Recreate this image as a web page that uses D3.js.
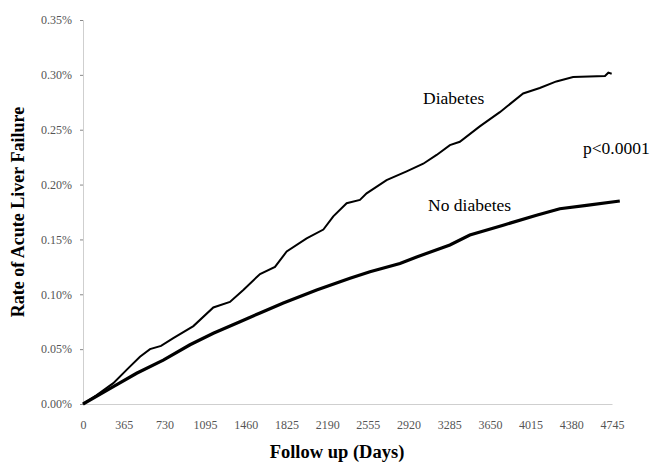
<!DOCTYPE html>
<html lang="en">
<head>
<meta charset="UTF-8">
<title>Acute liver failure</title>
<script src="https://cdn.jsdelivr.net/npm/d3@7"></script>
<style>
  body { margin: 0; background: #fff; }
</style>
</head>
<body>
<script>
// follow-up days and cumulative rate (%)
const diabetesDays = [0, 120, 272, 400, 511, 601, 700, 810, 990, 1169, 1318, 1438, 1588, 1722, 1827, 2006, 2156, 2245, 2365, 2484, 2544, 2723, 2903, 3052, 3172, 3291, 3380, 3559, 3739, 3948, 4097, 4246, 4396, 4682, 4712, 4742];
const diabetesRate = [0, 0.008, 0.019, 0.032, 0.043, 0.050, 0.053, 0.060, 0.071, 0.088, 0.093, 0.104, 0.1185, 0.125, 0.139, 0.151, 0.159, 0.171, 0.183, 0.186, 0.192, 0.204, 0.212, 0.219, 0.227, 0.236, 0.239, 0.253, 0.266, 0.283, 0.288, 0.294, 0.298, 0.299, 0.302, 0.301];

const noDiabetesDays = [0, 272, 481, 720, 960, 1169, 1408, 1588, 1797, 2096, 2395, 2574, 2843, 2993, 3291, 3470, 3769, 4068, 4277, 4516, 4815];
const noDiabetesRate = [0, 0.0158, 0.028, 0.040, 0.054, 0.0645, 0.075, 0.083, 0.092, 0.104, 0.1146, 0.1206, 0.128, 0.134, 0.145, 0.154, 0.163, 0.172, 0.178, 0.181, 0.185];

const xTicks = [0, 365, 730, 1095, 1460, 1825, 2190, 2555, 2920, 3285, 3650, 4015, 4380, 4745];
const yTicks = [0, 0.05, 0.10, 0.15, 0.20, 0.25, 0.30, 0.35];

const serif = '"Liberation Serif", "DejaVu Serif", serif';
const width = 650, height = 462;
const svg = d3.select('body').append('svg')
  .attr('width', width)
  .attr('height', height)
  .attr('font-family', serif);

const x = d3.scaleLinear().domain([0, 4745]).range([83, 612]);
const y = d3.scaleLinear().domain([0, 0.35]).range([404, 20]);

// axes
const xAxis = svg.append('g')
  .attr('transform', `translate(0,${y(0)})`)
  .call(d3.axisBottom(x).tickValues(xTicks).tickSize(0).tickPadding(16)
    .tickFormat(d3.format('d')));
const yAxis = svg.append('g')
  .attr('transform', `translate(${x(0)},0)`)
  .call(d3.axisLeft(y).tickValues(yTicks).tickSize(3).tickPadding(8)
    .tickFormat(d => d3.format('.2f')(d) + '%'));

[xAxis, yAxis].forEach(a => {
  a.attr('font-family', serif).attr('font-size', 12);
  a.select('.domain').attr('stroke', '#cfcfcf').attr('stroke-width', 1);
  a.selectAll('.tick line').attr('stroke', '#888');
  a.selectAll('.tick text').attr('fill', '#555');
});

// curves
const line = d3.line()
  .x(d => x(d[0]))
  .y(d => y(d[1]));

svg.append('path')
  .datum(d3.zip(diabetesDays, diabetesRate))
  .attr('d', line)
  .attr('fill', 'none')
  .attr('stroke', '#000')
  .attr('stroke-width', 2);

svg.append('path')
  .datum(d3.zip(noDiabetesDays, noDiabetesRate))
  .attr('d', line)
  .attr('fill', 'none')
  .attr('stroke', '#000')
  .attr('stroke-width', 3.2);

// annotations
svg.append('text').attr('x', 423).attr('y', 104)
  .attr('font-size', 17.5).text('Diabetes');
svg.append('text').attr('x', 428).attr('y', 211)
  .attr('font-size', 17.5).text('No diabetes');
svg.append('text').attr('x', 583).attr('y', 154)
  .attr('font-size', 17.5).text('p<0.0001');

// axis titles
svg.append('text')
  .attr('x', 337).attr('y', 458)
  .attr('text-anchor', 'middle')
  .attr('font-size', 18.5).attr('font-weight', 'bold')
  .text('Follow up (Days)');
svg.append('text')
  .attr('transform', 'translate(24,212) rotate(-90)')
  .attr('text-anchor', 'middle')
  .attr('font-size', 18).attr('font-weight', 'bold')
  .text('Rate of Acute Liver Failure');
</script>
</body>
</html>
